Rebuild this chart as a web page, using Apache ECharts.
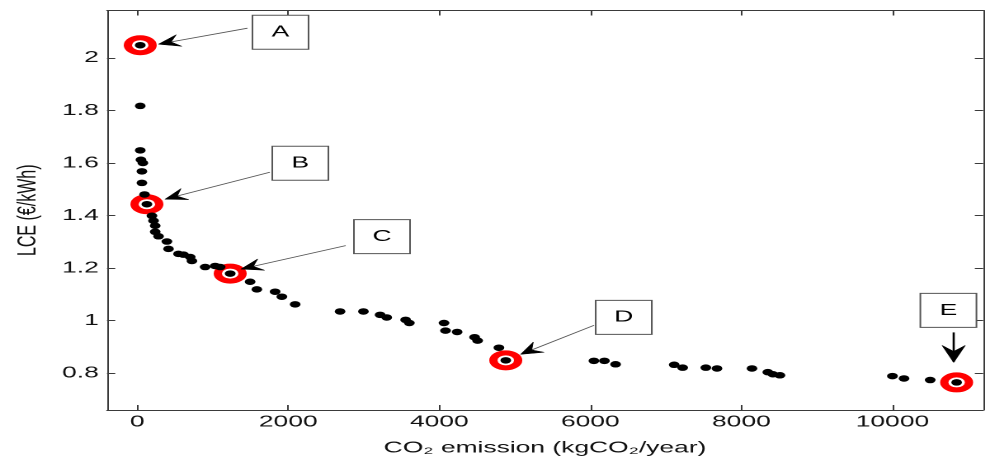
<!DOCTYPE html>
<html>
<head>
<meta charset="utf-8">
<title>LCE vs CO2 emission</title>
<script src="https://cdn.jsdelivr.net/npm/echarts@6/dist/echarts.min.js"></script>
<style>
  html, body { margin: 0; padding: 0; background: #fff; overflow: hidden; }
  /* the figure is drawn on a narrow canvas and widened horizontally */
  #main { width: 597px; height: 461px; transform: scaleX(1.65); transform-origin: 0 0; }
</style>
</head>
<body>
<div id="main"></div>
<script>
// Pareto front: annual CO2 emission vs levelised cost of energy
const emission = [40, 40, 40, 49, 75, 62, 62, 97, 128, 195,
  216, 238, 238, 282, 393, 414, 546, 613, 701, 724,
  900, 1032, 1098, 1231, 1495, 1584, 1826, 1915, 2091, 2686,
  2995, 3216, 3304, 3554, 3603, 4062, 4082, 4236, 4467, 4507,
  4789, 4880, 6047, 6186, 6334, 7110, 7222, 7529, 7677, 8140,
  8350, 8417, 8510, 10000, 10153, 10500, 10850];
const lce = [2.048, 1.817, 1.648, 1.612, 1.600, 1.568, 1.524, 1.480, 1.443, 1.399,
  1.380, 1.361, 1.338, 1.321, 1.301, 1.273, 1.254, 1.251, 1.242, 1.227,
  1.204, 1.208, 1.204, 1.179, 1.148, 1.119, 1.110, 1.091, 1.062, 1.035,
  1.035, 1.022, 1.012, 1.003, 0.991, 0.991, 0.962, 0.957, 0.937, 0.924,
  0.897, 0.849, 0.847, 0.847, 0.834, 0.832, 0.821, 0.821, 0.818, 0.818,
  0.804, 0.796, 0.792, 0.789, 0.780, 0.774, 0.765];
const xTicks = [0, 2000, 4000, 6000, 8000, 10000];
const yTicks = [0.8, 1, 1.2, 1.4, 1.6, 1.8, 2];
const markLabels = ['A', 'B', 'C', 'D', 'E'];
const markIndex = [0, 8, 23, 41, 56];

// callout geometry, in pixels relative to the highlighted point
const callout = {
  A: { box: [85, -13], from: [65, -17], tip: [11, -1], big: false },
  B: { box: [93, -41], from: [74.5, -32], tip: [11, -5], big: false },
  C: { box: [92, -37], from: [70, -28], tip: [6.5, -4.5], big: false },
  D: { box: [71.5, -43], from: [53.5, -35], tip: [9, -6], big: false },
  E: { box: [-5, -72], from: [-1.8, -50], tip: [-1.8, -20], big: true }
};

const FONT = '"Liberation Sans", Arial, Helvetica, sans-serif';
const AXIS_COLOR = '#3a3a3a';
const TEXT_COLOR = '#111';

const points = emission.map((x, i) => [x, lce[i]]);
const marked = markIndex.map(i => points[i]);

const chart = echarts.init(document.getElementById('main'), null, { renderer: 'canvas', devicePixelRatio: 2 });

const frameLine = { show: true, onZero: false, lineStyle: { color: AXIS_COLOR, width: 1 } };
const tickStyle = (vals) => ({ show: true, inside: true, length: 5, customValues: vals, lineStyle: { color: AXIS_COLOR } });

chart.setOption({
  animation: false,
  backgroundColor: '#fff',
  grid: { left: 64.85, right: 1.2, top: 10.5, bottom: 48.1, containLabel: false },
  xAxis: [
    {
      type: 'value', min: -400, max: 11200, position: 'bottom',
      axisLine: frameLine,
      axisTick: tickStyle(xTicks),
      axisLabel: { show: true, customValues: xTicks, margin: 4, formatter: v => String(v),
        color: TEXT_COLOR, fontSize: 16, fontFamily: FONT },
      splitLine: { show: false },
      name: 'CO\u2082 emission (kgCO\u2082/year)', nameLocation: 'middle', nameGap: 30,
      nameTextStyle: { color: TEXT_COLOR, fontSize: 16, fontFamily: FONT }
    },
    {
      type: 'value', min: -400, max: 11200, position: 'top',
      axisLine: frameLine,
      axisTick: tickStyle(xTicks),
      axisLabel: { show: false },
      splitLine: { show: false }
    }
  ],
  yAxis: [
    {
      type: 'value', min: 0.66, max: 2.18, position: 'left',
      axisLine: frameLine,
      axisTick: tickStyle(yTicks),
      axisLabel: { show: true, customValues: yTicks, margin: 5, formatter: v => String(+v.toFixed(2)),
        color: TEXT_COLOR, fontSize: 16, fontFamily: FONT },
      splitLine: { show: false },
      name: 'LCE (\u20AC/kWh)', nameLocation: 'middle', nameGap: 40, nameRotate: 90,
      nameTextStyle: { color: TEXT_COLOR, fontSize: 16, fontFamily: FONT }
    },
    {
      type: 'value', min: 0.66, max: 2.18, position: 'right',
      axisLine: frameLine,
      axisTick: tickStyle(yTicks),
      axisLabel: { show: false },
      splitLine: { show: false }
    }
  ],
  series: [
    {
      name: 'selected', type: 'scatter', xAxisIndex: 0, yAxisIndex: 0,
      data: marked, symbol: 'circle', symbolSize: 15, z: 2, silent: true,
      itemStyle: { color: '#ffffff', borderColor: '#ff0000', borderWidth: 5, opacity: 1 }
    },
    {
      name: 'solutions', type: 'scatter', xAxisIndex: 0, yAxisIndex: 0,
      data: points, symbol: 'circle', symbolSize: 6.5, z: 3, silent: true,
      itemStyle: { color: '#000000', opacity: 1 }
    }
  ]
});

// callout boxes with arrows pointing at the highlighted solutions
function arrowHead(tip, from, len, half, notch) {
  const dx = tip[0] - from[0], dy = tip[1] - from[1];
  const d = Math.hypot(dx, dy) || 1;
  const ux = dx / d, uy = dy / d, nx = -uy, ny = ux;
  return [
    [tip[0], tip[1]],
    [tip[0] - len * ux + half * nx, tip[1] - len * uy + half * ny],
    [tip[0] - notch * ux, tip[1] - notch * uy],
    [tip[0] - len * ux - half * nx, tip[1] - len * uy - half * ny]
  ];
}

const graphics = [];
markLabels.forEach((lab, k) => {
  const c = callout[lab];
  const p = chart.convertToPixel({ xAxisIndex: 0, yAxisIndex: 0 }, marked[k]);
  const bx = p[0] + c.box[0], by = p[1] + c.box[1];
  const from = [p[0] + c.from[0], p[1] + c.from[1]];
  const tip = [p[0] + c.tip[0], p[1] + c.tip[1]];
  const len = c.big ? 17 : 13, half = c.big ? 7 : 6, notch = c.big ? 11 : 8;
  graphics.push({
    type: 'line', z: 10, silent: true,
    shape: { x1: from[0], y1: from[1], x2: tip[0] - (tip[0] - from[0]) * 0.02, y2: tip[1] - (tip[1] - from[1]) * 0.02 },
    style: { stroke: c.big ? '#000' : '#555', lineWidth: c.big ? 1.3 : 0.8 }
  });
  graphics.push({
    type: 'polygon', z: 11, silent: true,
    shape: { points: arrowHead(tip, from, len, half, notch) },
    style: { fill: '#000', stroke: '#000', lineWidth: 0.5 }
  });
  graphics.push({
    type: 'rect', z: 12, silent: true,
    shape: { x: bx - 17, y: by - 17, width: 34, height: 34 },
    style: { fill: '#fff', stroke: '#555', lineWidth: 1 }
  });
  graphics.push({
    type: 'text', z: 13, silent: true,
    x: bx, y: by,
    style: { text: lab, fill: '#000', font: '16px ' + FONT, align: 'center', verticalAlign: 'middle' }
  });
});
chart.setOption({ graphic: graphics });
</script>
</body>
</html>
